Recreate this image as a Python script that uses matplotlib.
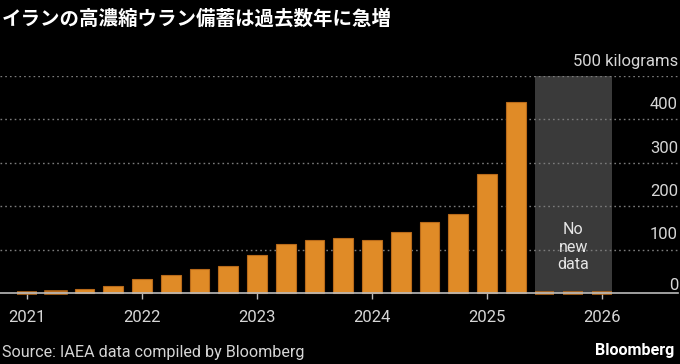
#!/usr/bin/env python3
"""Iran's highly enriched uranium stockpile, quarterly IAEA figures."""

import matplotlib.pyplot as plt

# --- data ---
quarters = [
    "2021Q1", "2021Q2", "2021Q3", "2021Q4",
    "2022Q1", "2022Q2", "2022Q3", "2022Q4",
    "2023Q1", "2023Q2", "2023Q3", "2023Q4",
    "2024Q1", "2024Q2", "2024Q3", "2024Q4",
    "2025Q1", "2025Q2", "2025Q3", "2025Q4",
    "2026Q1",
]
stockpile_kg = [
    0, 2.4, 10, 17.7,
    33.2, 43.1, 55.6, 62.3,
    87.5, 114.1, 121.6, 128.3,
    121.5, 142.1, 164.7, 182.3,
    274.8, 440.9, 0, 0,
    0,
]
no_data_quarters = ["2025Q3", "2025Q4", "2026Q1"]
year_ticks = [2021, 2022, 2023, 2024, 2025, 2026]
y_ticks = [0, 100, 200, 300, 400, 500]
y_labels = ["0", "100", "200", "300", "400", "500 kilograms"]

TITLE = "イランの高濃縮ウラン備蓄は過去数年に急増"
SOURCE = "Source: IAEA data compiled by Bloomberg"

ORANGE = "#E08B27"
EDGE = "#B86A1A"
TEXT = "#D6D6D6"
BG = "black"


def qpos(q):
    return int(q[:4]) + (int(q[-1]) - 1) * 0.25


xs = [qpos(q) for q in quarters]
bar_w = 0.17
# near-zero quarters show up as a thin stub at the baseline
edge_w = [2.6 if v < 3 else 0.8 for v in stockpile_kg]

plt.rcParams["font.family"] = ["Roboto", "DejaVu Sans"]

fig = plt.figure(figsize=(6.8, 3.64), dpi=100, facecolor=BG)
ax = fig.add_axes([0, (364 - 293.3) / 364, 678 / 680, (293.3 - 76) / 364])
ax.set_facecolor(BG)

# no-data shading
x0 = qpos(no_data_quarters[0]) - bar_w / 2
x1 = qpos(no_data_quarters[-1]) + bar_w / 2
ax.fill_between([x0, x1], 0, 500, color="#3A3A3A", lw=0, zorder=0)

# grid
for y in y_ticks[1:]:
    ax.axhline(y, color="#7C7C7C", lw=1.0, ls=(0, (1.2, 2.2)), zorder=0.5)

ax.bar(xs, stockpile_kg, width=bar_w, color=ORANGE, edgecolor=EDGE,
       linewidth=edge_w, zorder=2, clip_on=False)

ax.text(qpos(no_data_quarters[1]), 106, "No\nnew\ndata", color="#E6E6E6",
        fontsize=11.5, ha="center", va="center", linespacing=1.2, zorder=3)

# y labels sit above their gridlines, right-aligned
for y, lab in zip(y_ticks, y_labels):
    off = 2.5 if y == 0 else 7.5
    ax.annotate(lab, xy=(1, y), xycoords=("axes fraction", "data"),
                xytext=(0, off), textcoords="offset points",
                ha="right", va="baseline", color=TEXT, fontsize=12)

ax.set_xlim(2021 - 27 / 115, 2021 + 651 / 115)
ax.set_ylim(0, 500)
ax.set_yticks([])
ax.set_xticks(year_ticks)
ax.set_xticklabels([str(y) for y in year_ticks])
ax.tick_params(axis="x", colors="#BBBBBB", length=4, width=1, pad=8,
               labelcolor=TEXT, labelsize=12)
for side in ["top", "left", "right"]:
    ax.spines[side].set_visible(False)
ax.spines["bottom"].set_color("#BBBBBB")
ax.spines["bottom"].set_linewidth(1.2)
ax.spines["bottom"].set_zorder(3)

fig.text(2 / 680, 1 - 19 / 364, TITLE, color="white", fontsize=14,
         fontweight="bold", va="center", ha="left",
         family=["Noto Sans CJK JP", "DejaVu Sans"])
fig.text(2 / 680, 1 - 353 / 364, SOURCE, color=TEXT, fontsize=11.6,
         va="center", ha="left")
fig.text(674 / 680, 1 - 351 / 364, "Bloomberg", color="white", fontsize=11.6,
         fontweight="bold", va="center", ha="right")

fig.savefig("out.png", dpi=100, facecolor=BG)
plt.close(fig)
